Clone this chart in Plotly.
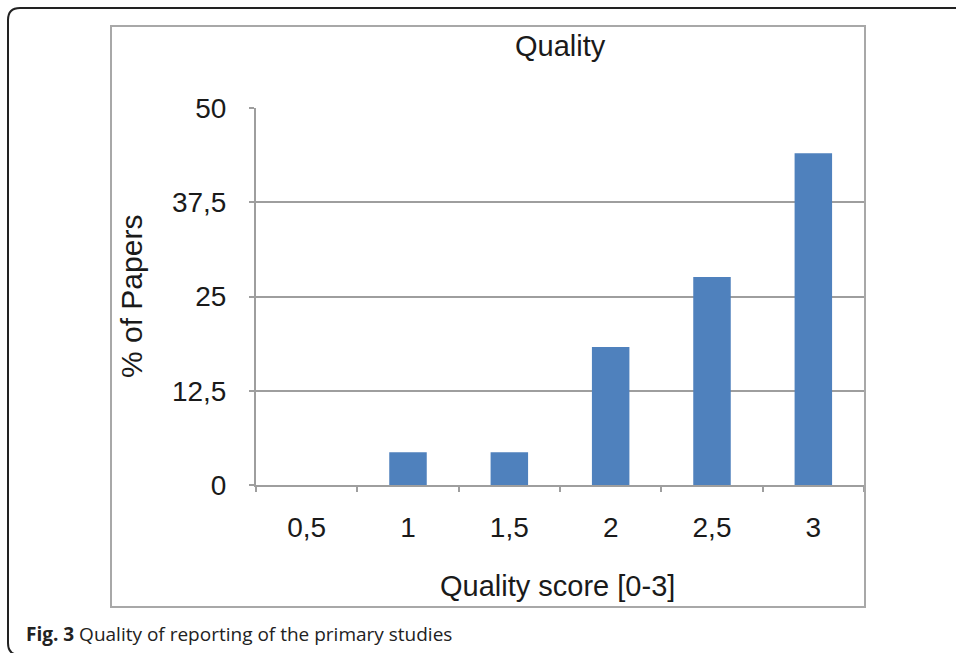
import plotly.graph_objects as go

# data
scores = ["0,5", "1", "1,5", "2", "2,5", "3"]
pct_papers = [0, 4.35, 4.35, 18.3, 27.6, 44.0]
y_ticks = [0, 12.5, 25, 37.5, 50]
y_tick_labels = ["0", "12,5", "25", "37,5", "50"]

W, H = 956, 653
PL, PR, PT, PB = 256, 864, 108, 485  # plot area in pixels


def px(x):
    return (x - PL) / (PR - PL)


def py(y):
    return (PB - y) / (PB - PT)


GRID = "#9e9e9e"
FONT = "Liberation Sans, Arial, Helvetica, sans-serif"

fig = go.Figure()
fig.add_trace(go.Bar(
    x=scores, y=pct_papers, width=0.37,
    marker=dict(color="#4F81BD", line=dict(width=0)),
))

fig.update_layout(
    width=W, height=H,
    margin=dict(l=PL, r=W - PR, t=PT, b=H - PB),
    paper_bgcolor="white", plot_bgcolor="white",
    showlegend=False,
    font=dict(family=FONT, size=28, color="#1a1a1a"),
)
fig.update_xaxes(
    type="category", range=[-0.5, 5.5],
    showline=True, linecolor=GRID, linewidth=2,
    ticks="outside", tickson="boundaries", ticklen=5, tickwidth=2, tickcolor=GRID,
    ticklabelstandoff=16, showgrid=False,
    tickfont=dict(size=28),
)
fig.update_yaxes(
    range=[0, 50], tickvals=y_ticks, ticktext=y_tick_labels,
    showline=True, linecolor=GRID, linewidth=2,
    ticks="outside", ticklen=5, tickwidth=2, tickcolor=GRID,
    showgrid=True, gridcolor=GRID, gridwidth=2,
    zeroline=False, ticklabelstandoff=17,
    tickfont=dict(size=28),
)

# outer rounded frame and inner chart box
x0, y0, x1, y1, r = 8, 8, 962, 655, 12
frame = (f"M {px(x0)},{py(y0 + r)} L {px(x0)},{py(y1 - r)} "
         f"Q {px(x0)},{py(y1)} {px(x0 + r)},{py(y1)} L {px(x1)},{py(y1)} "
         f"L {px(x1)},{py(y0)} L {px(x0 + r)},{py(y0)} "
         f"Q {px(x0)},{py(y0)} {px(x0)},{py(y0 + r)} Z")
fig.add_shape(type="path", path=frame, xref="paper", yref="paper",
              line=dict(color="#222222", width=2))
fig.add_shape(type="rect", xref="paper", yref="paper",
              x0=px(111), x1=px(865), y0=py(26), y1=py(607),
              line=dict(color="#a8a8a8", width=2))

ann = dict(xref="paper", yref="paper", showarrow=False, xanchor="center", yanchor="middle")
fig.add_annotation(text="Quality", x=px(560), y=py(46), font=dict(size=29), **ann)
fig.add_annotation(text="% of Papers", x=px(131), y=py(297), textangle=-90,
                   font=dict(size=30), **ann)
fig.add_annotation(text="Quality score [0-3]", x=px(557), y=py(586),
                   font=dict(size=29), **ann)
fig.add_annotation(text="<b>Fig. 3</b> Quality of reporting of the primary studies",
                   xref="paper", yref="paper", x=px(24), y=py(634),
                   xanchor="left", yanchor="middle", showarrow=False,
                   font=dict(family="Open Sans, Noto Sans, sans-serif", size=19, color="#222222"))

# drop the default 8px body margin so figure pixels line up with the window
fig.write_html("out.html", config={"displayModeBar": False},
               post_script="document.body.style.margin='0';")
